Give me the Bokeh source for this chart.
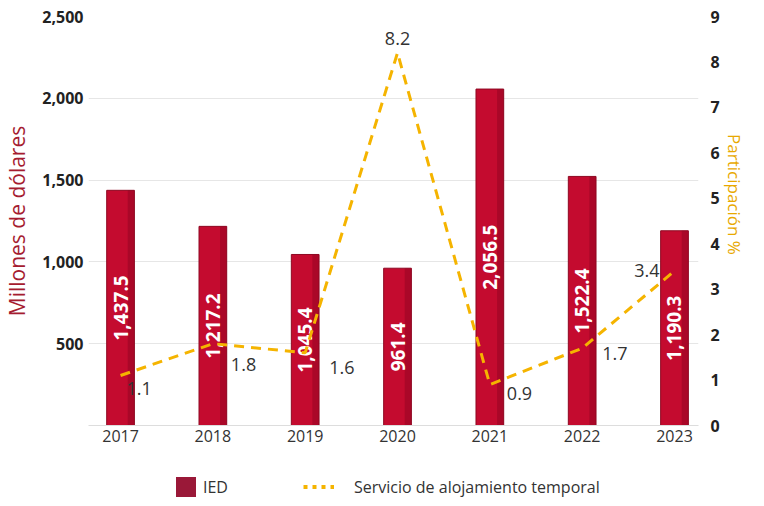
import math
from bokeh.plotting import figure
from bokeh.layouts import column
from bokeh.models import (Range1d, LinearAxis, FixedTicker, ColumnDataSource,
                          Legend, LegendItem, NumeralTickFormatter)
from bokeh.core.properties import value
from bokeh.embed import file_html
from bokeh.resources import INLINE

# ---- data ----
years = ["2017", "2018", "2019", "2020", "2021", "2022", "2023"]
ied = [1437.5, 1217.2, 1045.4, 961.4, 2056.5, 1522.4, 1190.3]
alojamiento = [1.1, 1.8, 1.6, 8.2, 0.9, 1.7, 3.4]
left_ticks = [0, 500, 1000, 1500, 2000, 2500]
right_ticks = [0, 1, 2, 3, 4, 5, 6, 7, 8, 9]

# ---- styles ----
FONT = "Open Sans"
BAR = "#C40B2F"
BAR_DARK = "#960622"
BAR_EDGE = "#8E0822"
LEG_BAR = "#9A1838"
GOLD = "#F5B400"
TXT = "#333333"
NB = "\u00a0"

# label placement for line values (pixel offsets & alignment)
lbl_dx = [6, 18, 24, 0, 17, 20, -15]
lbl_dy = [13, 21, 15, -8, 9, 5, 0]
lbl_align = ["left", "left", "left", "center", "left", "left", "right"]
lbl_base = ["middle", "middle", "middle", "bottom", "middle", "middle", "middle"]

xs = list(range(len(years)))
BW = 0.30
ML, MR = 82, 50

p = figure(width=748, height=455, output_backend="svg", toolbar_location=None,
           x_range=Range1d(-0.347, len(years) - 1 + 0.26),
           y_range=Range1d(0, 2500),
           min_border_left=ML, min_border_right=MR, min_border_top=16,
           min_border_bottom=30, y_axis_location=None)
p.outline_line_color = None
p.background_fill_color = "white"
p.border_fill_color = "white"
p.extra_y_ranges = {"pct": Range1d(0, 9)}

def style_axis(ax):
    ax.axis_line_color = None
    ax.major_tick_line_color = None
    ax.minor_tick_line_color = None
    ax.major_tick_out = 0
    ax.major_tick_in = 0
    ax.minor_tick_out = 0
    ax.minor_tick_in = 0

# axes
yl = LinearAxis(ticker=FixedTicker(ticks=left_ticks),
                formatter=NumeralTickFormatter(format="0,0"))
yl.major_label_overrides = {0: ""}
yl.axis_label = "Millones de dólares"
yl.axis_label_text_color = "#A51C30"
yl.axis_label_text_font = FONT
yl.axis_label_text_font_size = "21px"
yl.axis_label_text_font_style = "normal"
yl.axis_label_standoff = 8
yl.major_label_text_font = FONT
yl.major_label_text_font_size = "16px"
yl.major_label_text_font_style = "bold"
yl.major_label_text_color = "#222222"
yl.major_label_standoff = 5
style_axis(yl)
p.add_layout(yl, "left")

yr = LinearAxis(y_range_name="pct", ticker=FixedTicker(ticks=right_ticks))
yr.axis_label = "Participación %" + NB * 12
yr.axis_label_text_color = "#E8A800"
yr.axis_label_text_font = FONT
yr.axis_label_text_font_size = "17px"
yr.axis_label_text_font_style = "normal"
yr.axis_label_standoff = 0
yr.major_label_text_font = FONT
yr.major_label_text_font_size = "16px"
yr.major_label_text_font_style = "bold"
yr.major_label_text_color = "#222222"
yr.major_label_standoff = 12
style_axis(yr)
p.add_layout(yr, "right")

p.xaxis.ticker = FixedTicker(ticks=xs)
p.xaxis.major_label_overrides = {i: y for i, y in enumerate(years)}
p.xaxis.major_label_text_font = FONT
p.xaxis.major_label_text_font_size = "16px"
p.xaxis.major_label_text_color = TXT
p.xaxis.major_label_standoff = 4
style_axis(p.xaxis[0])
p.xaxis.axis_line_color = "#dddddd"

p.xgrid.grid_line_color = None
p.ygrid.ticker = FixedTicker(ticks=left_ticks)
p.ygrid.grid_line_color = "#e6e6e6"

# bars (with a darker right-hand bevel strip)
src = ColumnDataSource(dict(
    x=xs, top=ied, half=[v / 2 for v in ied],
    xr=[x + BW * 0.38 for x in xs],
    lbl=[f"{v:,.1f}" for v in ied]))
p.vbar(x="x", top="top", width=BW, source=src, fill_color=BAR,
       line_color=None)
p.vbar(x="xr", top="top", width=BW * 0.24, source=src, fill_color=BAR_DARK,
       fill_alpha=0.55, line_color=None)
p.vbar(x="x", top="top", width=BW, source=src, fill_color=None,
       line_color=BAR_EDGE, line_width=1)
p.text(x="x", y="half", text="lbl", source=src, angle=math.pi / 2,
       text_align="center", text_baseline="middle", text_color="white",
       text_font=value(FONT), text_font_style="bold", text_font_size="19px")

# line
lsrc = ColumnDataSource(dict(
    x=xs, y=alojamiento, lbl=[f"{v:.1f}" for v in alojamiento],
    dx=lbl_dx, dy=lbl_dy, al=lbl_align, bl=lbl_base))
p.line(x="x", y="y", source=lsrc, y_range_name="pct", line_color=GOLD,
       line_width=3, line_dash="10 7")
p.text(x="x", y="y", text="lbl", source=lsrc, y_range_name="pct",
       x_offset="dx", y_offset="dy", text_align="al", text_baseline="bl",
       text_color=TXT, text_font=value(FONT), text_font_size="18px")

# ---- legend strip (separate small figure, frame aligned with main) ----
q = figure(width=748, height=43, output_backend="svg", toolbar_location=None,
           x_range=Range1d(0, 1), y_range=Range1d(0, 1),
           x_axis_location=None, y_axis_location=None,
           min_border_left=ML, min_border_right=MR, min_border_top=0,
           min_border_bottom=0)
q.outline_line_color = None
q.xgrid.visible = False
q.ygrid.visible = False
r_leg_bar = q.vbar(x=[float("nan")], top=[float("nan")], width=0.3,
                   fill_color=LEG_BAR, line_color=None)
r_leg_line = q.line(x=[float("nan")], y=[float("nan")], line_color=GOLD,
                    line_width=4, line_dash="4 5")

common = dict(padding=0, margin=0, border_line_color=None,
              background_fill_alpha=0, label_text_font=FONT,
              label_text_font_size="16px", label_text_color=TXT)
leg1 = Legend(items=[LegendItem(label="IED", renderers=[r_leg_bar])],
              location=(85, -1), glyph_width=25, glyph_height=25,
              label_standoff=5, **common)
leg2 = Legend(items=[LegendItem(label="Servicio de alojamiento temporal",
                                renderers=[r_leg_line])],
              location=(215, -1), glyph_width=31, glyph_height=25,
              label_standoff=20, **common)
q.add_layout(leg1, "center")
q.add_layout(leg2, "center")

layout = column(p, q, spacing=0)
open("out.html", "w").write(file_html(layout, INLINE))
